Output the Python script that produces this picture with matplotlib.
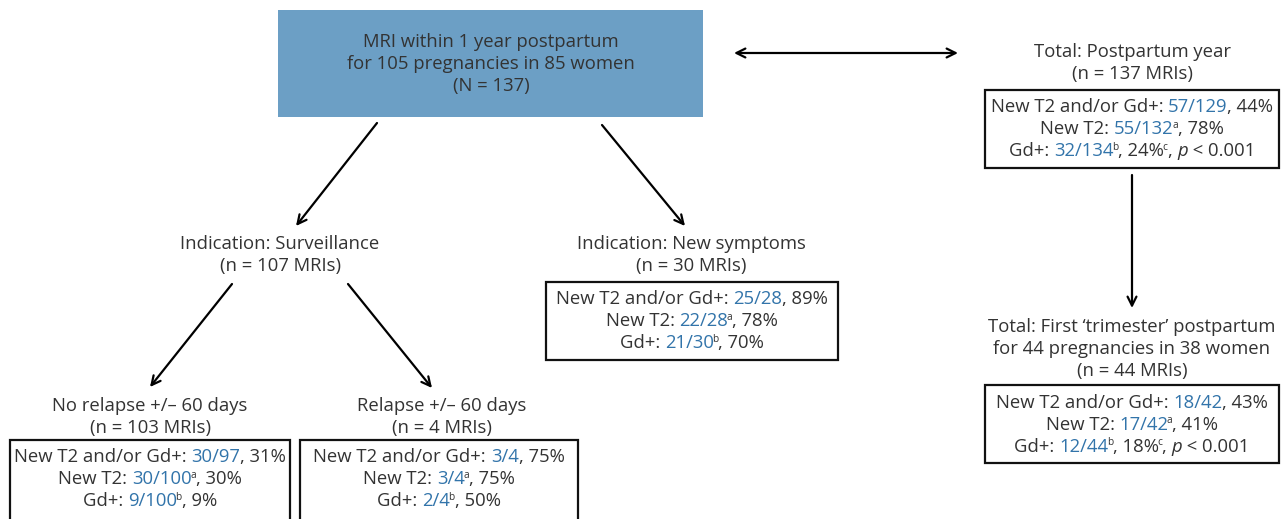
import matplotlib.pyplot as plt
from matplotlib.patches import Rectangle

plt.rcParams["font.family"] = ["Open Sans", "DejaVu Sans"]

DARK = "#333333"
BLUE = "#3274aa"
FILL = "#6c9fc5"
FS = 13.3

# ---- data -----------------------------------------------------------------
TOP_LINES = ["MRI within 1 year postpartum",
             "for 105 pregnancies in 85 women",
             "(N = 137)"]

GROUPS = ["year", "trimester", "symptoms", "no_relapse", "relapse"]
HEADERS = [
    ["Total: Postpartum year", "(n = 137 MRIs)"],
    ["Total: First \u2018trimester\u2019 postpartum",
     "for 44 pregnancies in 38 women", "(n = 44 MRIs)"],
    ["Indication: New symptoms", "(n = 30 MRIs)"],
    ["No relapse +/\u2013 60 days", "(n = 103 MRIs)"],
    ["Relapse +/\u2013 60 days", "(n = 4 MRIs)"],
]
ANY_NUM = [57, 18, 25, 30, 3]
ANY_DEN = [129, 42, 28, 97, 4]
ANY_PCT = [44, 43, 89, 31, 75]
T2_NUM = [55, 17, 22, 30, 3]
T2_DEN = [132, 42, 28, 100, 4]
T2_PCT = [78, 41, 78, 30, 75]
GD_NUM = [32, 12, 21, 9, 2]
GD_DEN = [134, 44, 30, 100, 4]
GD_PCT = [24, 18, 70, 9, 50]
GD_PVAL = ["0.001", "0.001", None, None, None]

SURV_LINES = ["Indication: Surveillance", "(n = 107 MRIs)"]

# ---- layout (pixel space) ------------------------------------------------
# header centre x, first header baseline, box (x0, y0, x1, y1)
LAYOUT = {
    "year": (1132, 57, (985, 90, 1279, 168)),
    "trimester": (1132, 332, (985, 385, 1279, 463)),
    "symptoms": (691, 249, (546, 282, 838, 360)),
    "no_relapse": (150, 411, (10, 440, 290, 530)),
    "relapse": (442, 411, (300, 440, 578, 530)),
}
LINE_H = 22.0

fig = plt.figure(figsize=(12.86, 5.19), dpi=100)
ax = fig.add_axes([0, 0, 1, 1])
ax.set_xlim(0, 1286)
ax.set_ylim(519, 0)
ax.axis("off")
renderer = fig.canvas.get_renderer()


def text_w(s, size, style="normal"):
    t = ax.text(0, 0, s + "l", fontsize=size, style=style)
    r = ax.text(0, 0, "l", fontsize=size, style=style)
    w = t.get_window_extent(renderer).width - r.get_window_extent(renderer).width
    t.remove()
    r.remove()
    return w


def rich_line(xc, yb, parts):
    # parts: (text, colour, kind) with kind in normal / sup / it
    widths = []
    for s, c, kind in parts:
        size = FS * 0.55 if kind == "sup" else FS
        w = text_w(s, size, "italic" if kind == "it" else "normal")
        widths.append(w - 1.5 if kind == "sup" else w)
    x = xc - sum(widths) / 2
    for (s, c, kind), w in zip(parts, widths):
        size = FS * 0.55 if kind == "sup" else FS
        dy = -6.5 if kind == "sup" else 0
        ax.text(x - (1.5 if kind == "sup" else 0), yb + dy, s, fontsize=size,
                color=c, va="baseline", ha="left",
                style="italic" if kind == "it" else "normal")
        x += w


def centered(xc, yb, lines):
    for i, s in enumerate(lines):
        ax.text(xc, yb + i * LINE_H, s, fontsize=FS, color=DARK,
                ha="center", va="baseline")


def arrow(p0, p1, both=False):
    ax.annotate("", xy=p1, xytext=p0,
                arrowprops=dict(arrowstyle="<->" if both else "->",
                                lw=1.6, color="black", shrinkA=0, shrinkB=0,
                                mutation_scale=16))


# top box
ax.add_patch(Rectangle((278, 10), 425, 107, facecolor=FILL, edgecolor="none"))
centered(491, 47, TOP_LINES)

centered(280, 249, SURV_LINES)

for i, g in enumerate(GROUPS):
    xc, yb, (x0, y0, x1, y1) = LAYOUT[g]
    centered(xc, yb, HEADERS[i])
    ax.add_patch(Rectangle((x0, y0), x1 - x0, y1 - y0, facecolor="white",
                           edgecolor="#111111", lw=1.6))
    bx = (x0 + x1) / 2
    b0 = y0 + 22.5
    rich_line(bx, b0, [("New T2 and/or Gd+: ", DARK, "normal"),
                       (f"{ANY_NUM[i]}/{ANY_DEN[i]}", BLUE, "normal"),
                       (f", {ANY_PCT[i]}%", DARK, "normal")])
    rich_line(bx, b0 + LINE_H, [("New T2: ", DARK, "normal"),
                                (f"{T2_NUM[i]}/{T2_DEN[i]}", BLUE, "normal"),
                                ("a", DARK, "sup"),
                                (f", {T2_PCT[i]}%", DARK, "normal")])
    gd = [("Gd+: ", DARK, "normal"),
          (f"{GD_NUM[i]}/{GD_DEN[i]}", BLUE, "normal"),
          ("b", DARK, "sup"),
          (f", {GD_PCT[i]}%", DARK, "normal")]
    if GD_PVAL[i]:
        gd += [("c", DARK, "sup"), (", ", DARK, "normal"), ("p", DARK, "it"),
               (f" < {GD_PVAL[i]}", DARK, "normal")]
    rich_line(bx, b0 + 2 * LINE_H, gd)

# arrows
arrow((734, 53), (958, 53), both=True)
arrow((1132, 175), (1132, 308))
arrow((377, 123), (296, 226))
arrow((602, 125), (685, 226))
arrow((232, 284), (150, 387))
arrow((348, 284), (432, 388))

fig.savefig("out.png", dpi=100)
